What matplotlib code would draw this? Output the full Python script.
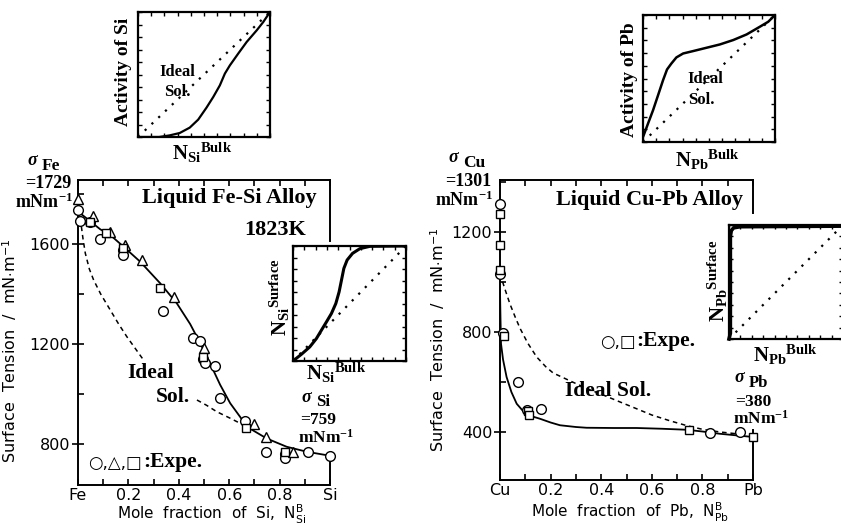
import matplotlib
matplotlib.use("Agg")
import matplotlib.pyplot as plt
import numpy as np

plt.rcParams['mathtext.fontset'] = 'custom'
plt.rcParams['mathtext.rm'] = 'Liberation Serif:bold'
plt.rcParams['mathtext.bf'] = 'Liberation Serif:bold'
plt.rcParams['mathtext.it'] = 'Liberation Serif:italic:bold'
plt.rcParams['mathtext.sf'] = 'DejaVu Sans'
plt.rcParams['font.family'] = ['DejaVu Sans']

# ---------------- data: Fe-Si ----------------
fesi_circ_x = [0.0, 0.007, 0.046, 0.088, 0.178, 0.178, 0.337, 0.458, 0.485, 0.495, 0.503, 0.544, 0.564, 0.663, 0.745, 0.822, 0.822, 0.914, 1.0]
fesi_circ_y = [1736, 1693, 1689, 1620, 1576, 1556, 1333, 1223, 1213, 1140, 1125, 1112, 983, 893, 769, 759, 743, 769, 752]
fesi_tri_x = [0.0, 0.059, 0.128, 0.188, 0.254, 0.382, 0.5, 0.7, 0.745, 0.855]
fesi_tri_y = [1779, 1713, 1649, 1596, 1536, 1389, 1183, 880, 829, 769]
fesi_sq_x = [0.046, 0.112, 0.177, 0.326, 0.495, 0.667, 0.822]
fesi_sq_y = [1689, 1645, 1583, 1423, 1149, 865, 769]
fesi_fit_x = [0.0, 0.046, 0.088, 0.128, 0.181, 0.247, 0.326, 0.392, 0.445, 0.485, 0.524, 0.564, 0.604, 0.643, 0.67, 0.749, 0.828, 0.908, 1.0]
fesi_fit_y = [1730, 1693, 1659, 1636, 1589, 1529, 1443, 1363, 1280, 1203, 1123, 1037, 963, 909, 869, 822, 789, 769, 753]
fesi_ideal1_x = [0.009, 0.02, 0.029, 0.045, 0.062, 0.09, 0.128, 0.16, 0.194, 0.26]
fesi_ideal1_y = [1703, 1620, 1563, 1500, 1456, 1400, 1336, 1282, 1229, 1136]
fesi_ideal2_x = [0.472, 0.51, 0.551, 0.6, 0.643, 0.67]
fesi_ideal2_y = [976, 955, 929, 905, 883, 870]

# ---------------- data: Cu-Pb ----------------
cupb_circ_x = [0.0, 0.0, 0.013, 0.07, 0.108, 0.162, 0.829, 0.947]
cupb_circ_y = [1313, 1033, 797, 599, 489, 493, 397, 400]
cupb_sq_x = [0.0, 0.0, 0.0, 0.016, 0.112, 0.116, 0.747, 1.0]
cupb_sq_y = [1273, 1147, 1047, 784, 484, 467, 407, 380]
cupb_fit_x = [0.0, 0.002, 0.004, 0.012, 0.026, 0.045, 0.066, 0.09, 0.112, 0.158, 0.2, 0.237, 0.3, 0.342, 0.45, 0.54, 0.64, 0.737, 0.8, 0.868, 0.93, 1.0]
cupb_fit_y = [967, 850, 753, 690, 620, 560, 513, 485, 467, 453, 438, 427, 420, 417, 416, 416, 413, 409, 402, 393, 387, 380]
cupb_ideal_x = [0.0, 0.02, 0.039, 0.06, 0.079, 0.11, 0.145, 0.18, 0.21, 0.276, 0.34, 0.408, 0.47, 0.54, 0.6, 0.671, 0.74, 0.803, 0.87, 0.934]
cupb_ideal_y = [1033, 970, 913, 860, 815, 755, 700, 662, 636, 605, 575, 548, 522, 493, 468, 445, 425, 410, 400, 393]

# ---------------- inset data ----------------
act_si_x = [0.0, 0.16, 0.24, 0.316, 0.392, 0.456, 0.519, 0.57, 0.62, 0.658, 0.696, 0.759, 0.823, 0.899, 0.949, 1.0]
act_si_y = [0.0, 0.0, 0.013, 0.032, 0.075, 0.139, 0.235, 0.32, 0.413, 0.507, 0.573, 0.667, 0.76, 0.853, 0.92, 1.0]
act_pb_x = [0.0, 0.038, 0.076, 0.114, 0.152, 0.182, 0.215, 0.253, 0.304, 0.38, 0.481, 0.582, 0.684, 0.785, 0.886, 0.949, 1.0]
act_pb_y = [0.039, 0.145, 0.25, 0.368, 0.487, 0.571, 0.618, 0.666, 0.697, 0.716, 0.742, 0.768, 0.803, 0.847, 0.908, 0.947, 1.0]
surf_si_x = [0.0, 0.074, 0.148, 0.207, 0.251, 0.296, 0.34, 0.379, 0.408, 0.429, 0.45, 0.479, 0.527, 0.592, 0.68, 1.0]
surf_si_y = [0.0, 0.058, 0.122, 0.195, 0.267, 0.34, 0.413, 0.5, 0.601, 0.703, 0.805, 0.878, 0.936, 0.977, 0.997, 1.0]
surf_pb_x = [0.0, 0.012, 0.012, 0.02, 0.04, 0.1, 1.0]
surf_pb_y = [0.0, 0.05, 0.9, 0.95, 0.975, 0.985, 0.99]
ideal_diag = [0.0, 1.0]

xtick_pos = [0.0, 0.2, 0.4, 0.6, 0.8, 1.0]
fesi_xticklabels = ['Fe', '0.2', '0.4', '0.6', '0.8', 'Si']
cupb_xticklabels = ['Cu', '0.2', '0.4', '0.6', '0.8', 'Pb']
fesi_yticks = [800, 1200, 1600]
cupb_yticks = [400, 800, 1200]

W, H = 841, 524
fig = plt.figure(figsize=(W / 100, H / 100), dpi=100)


def rect(x0, y0, x1, y1):
    return [x0 / W, 1 - y1 / H, (x1 - x0) / W, (y1 - y0) / H]


def fp(x, y):
    return (x / W, 1 - y / H)


SERIF = 'Liberation Serif'
mk = dict(mfc='white', mec='black', mew=1.0, ls='none', clip_on=False, zorder=5)


def style_main(ax, ylim, yticks, xlabels):
    ax.set_xlim(0, 1)
    ax.set_xticks(xtick_pos)
    ax.set_xticklabels(xlabels)
    ax.set_xticks(np.arange(0, 1.01, 0.1), minor=True)
    ax.set_yticks(yticks)
    ax.set_yticks(np.arange(200, 2000, 200), minor=True)
    ax.set_ylim(*ylim)
    for s in ax.spines.values():
        s.set_linewidth(1.4)
    ax.tick_params(axis='x', which='both', direction='in', top=True, bottom=True,
                   length=4, width=1.2, labelsize=11.5, pad=2)
    ax.tick_params(axis='y', which='major', direction='inout', length=9, width=1.2,
                   labelsize=11.5, pad=1, right=False)
    ax.tick_params(axis='y', which='minor', direction='in', length=4, width=1.2, right=False)


# ================= Left main: Fe-Si =================
axL = fig.add_axes(rect(78, 180, 330, 485))
ylimL = (636, 1856)
style_main(axL, ylimL, fesi_yticks, fesi_xticklabels)
axL.spines['right'].set_bounds(1610, ylimL[1])
axL.axvline(1.0, ymin=0, ymax=(752 - ylimL[0]) / (ylimL[1] - ylimL[0]), color='k', lw=1.4, clip_on=False)
axL.plot(fesi_fit_x, fesi_fit_y, color='k', lw=1.3)
axL.plot(fesi_ideal1_x, fesi_ideal1_y, color='k', lw=1.1, ls=(0, (3, 2.5)))
axL.plot(fesi_ideal2_x, fesi_ideal2_y, color='k', lw=1.1, ls=(0, (3, 2.5)))
axL.plot(fesi_circ_x, fesi_circ_y, marker='o', ms=7, **mk)
axL.plot(fesi_tri_x, fesi_tri_y, marker='^', ms=6.5, **mk)
axL.plot(fesi_sq_x, fesi_sq_y, marker='s', ms=5.5, **mk)
axL.set_ylabel(r"Surface  Tension  /  mN$\cdot$m$^{\mathsf{-1}}$", fontsize=11.5)
axL.yaxis.set_label_coords(-0.235, 0.44)
axL.set_xlabel(r"Mole  fraction  of  Si,  $\mathsf{N^{B}_{Si}}$", fontsize=11)
axL.xaxis.set_label_coords(0.53, -0.057)

fig.text(*fp(229, 198), "Liquid Fe-Si Alloy", family=SERIF, weight='bold', fontsize=16, ha='center', va='center')
fig.text(*fp(306, 230), "1823K", family=SERIF, weight='bold', fontsize=16, ha='right', va='center')
fig.text(*fp(151, 373), "Ideal", family=SERIF, weight='bold', fontsize=15.5, ha='center', va='center')
fig.text(*fp(173, 397), "Sol.", family=SERIF, weight='bold', fontsize=15.5, ha='center', va='center')
fig.text(*fp(115, 463), "○,△,□", family='DejaVu Sans', fontsize=12, ha='center', va='center')
fig.text(*fp(143, 462), ":Expe.", family=SERIF, weight='bold', fontsize=15.5, ha='left', va='center')

fig.text(*fp(32, 160), "σ", family=SERIF, weight='bold', style='italic', fontsize=13, ha='center', va='center')
fig.text(*fp(42, 166), "Fe", family=SERIF, weight='bold', fontsize=12.5, ha='left', va='center')
fig.text(*fp(71, 183), "=1729", family=SERIF, weight='bold', fontsize=13, ha='right', va='center')
fig.text(*fp(73, 202), r"mNm$^{\mathrm{-1}}$", family=SERIF, weight='bold', fontsize=13, ha='right', va='center')

fig.text(*fp(306, 398), "σ", family=SERIF, weight='bold', style='italic', fontsize=13, ha='center', va='center')
fig.text(*fp(316, 402), "Si", family=SERIF, weight='bold', fontsize=12, ha='left', va='center')
fig.text(*fp(300, 420), "=759", family=SERIF, weight='bold', fontsize=12.5, ha='left', va='center')
fig.text(*fp(298, 438), r"mNm$^{\mathrm{-1}}$", family=SERIF, weight='bold', fontsize=12.5, ha='left', va='center')

# ================= Right main: Cu-Pb =================
axR = fig.add_axes(rect(500, 180, 753, 480))
ylimR = (208, 1408)
style_main(axR, ylimR, cupb_yticks, cupb_xticklabels)
axR.spines['right'].set_bounds(1276, ylimR[1])
axR.axvline(1.0, ymin=0, ymax=(408 - ylimR[0]) / (ylimR[1] - ylimR[0]), color='k', lw=1.4, clip_on=False)
axR.plot(cupb_fit_x, cupb_fit_y, color='k', lw=1.3)
axR.plot(cupb_ideal_x, cupb_ideal_y, color='k', lw=1.1, ls=(0, (3, 2.5)))
axR.plot(cupb_circ_x, cupb_circ_y, marker='o', ms=7, **mk)
axR.plot(cupb_sq_x, cupb_sq_y, marker='s', ms=5.5, **mk)
axR.set_ylabel(r"Surface  Tension  /  mN$\cdot$m$^{\mathsf{-1}}$", fontsize=11.5)
axR.yaxis.set_label_coords(-0.21, 0.467)
axR.set_xlabel(r"Mole  fraction  of  Pb,  $\mathsf{N^{B}_{Pb}}$", fontsize=11)
axR.xaxis.set_label_coords(0.514, -0.068)

fig.text(*fp(649, 200), "Liquid Cu-Pb Alloy", family=SERIF, weight='bold', fontsize=16, ha='center', va='center')
fig.text(*fp(608, 391), "Ideal Sol.", family=SERIF, weight='bold', fontsize=15.5, ha='center', va='center')
fig.text(*fp(618, 342), "○,□", family='DejaVu Sans', fontsize=12, ha='center', va='center')
fig.text(*fp(636, 341), ":Expe.", family=SERIF, weight='bold', fontsize=15.5, ha='left', va='center')

fig.text(*fp(453, 157), "σ", family=SERIF, weight='bold', style='italic', fontsize=13, ha='center', va='center')
fig.text(*fp(463, 163), "Cu", family=SERIF, weight='bold', fontsize=12.5, ha='left', va='center')
fig.text(*fp(491, 182), "=1301", family=SERIF, weight='bold', fontsize=13, ha='right', va='center')
fig.text(*fp(493, 200), r"mNm$^{\mathrm{-1}}$", family=SERIF, weight='bold', fontsize=13, ha='right', va='center')

fig.text(*fp(739, 378), "σ", family=SERIF, weight='bold', style='italic', fontsize=13, ha='center', va='center')
fig.text(*fp(749, 383), "Pb", family=SERIF, weight='bold', fontsize=12, ha='left', va='center')
fig.text(*fp(735, 402), "=380", family=SERIF, weight='bold', fontsize=12.5, ha='left', va='center')
fig.text(*fp(733, 419), r"mNm$^{\mathrm{-1}}$", family=SERIF, weight='bold', fontsize=12.5, ha='left', va='center')


# ================= Insets =================
def style_inset(ax, lw=1.6):
    ax.set_xlim(0, 1)
    ax.set_ylim(0, 1)
    ax.set_xticks(np.arange(0, 1.01, 0.1))
    ax.set_yticks(np.arange(0, 1.01, 0.1))
    ax.set_xticklabels([])
    ax.set_yticklabels([])
    ax.tick_params(which='both', direction='in', top=True, right=True, length=3, width=1.0)
    for s in ax.spines.values():
        s.set_linewidth(lw)
    ax.set_facecolor('white')


dots = (0, (1, 3.2))

ax1 = fig.add_axes(rect(138, 12, 270, 137), zorder=10)
style_inset(ax1)
ax1.plot(ideal_diag, ideal_diag, color='k', lw=1.6, ls=dots)
ax1.plot(act_si_x, act_si_y, color='k', lw=1.6)
ax1.text(0.30, 0.52, "Ideal", family=SERIF, weight='bold', fontsize=12, ha='center', va='center', transform=ax1.transAxes)
ax1.text(0.30, 0.36, "Sol.", family=SERIF, weight='bold', fontsize=12, ha='center', va='center', transform=ax1.transAxes)
fig.text(*fp(124, 72), "Activity of Si", family=SERIF, weight='bold', fontsize=14, rotation=90, ha='center', va='center')
fig.text(*fp(202, 153), r"$\mathrm{N}_{\mathrm{Si}}{}^{\mathrm{Bulk}}$", fontsize=15, ha='center', va='center')

ax2 = fig.add_axes(rect(643, 15, 775, 142), zorder=10)
style_inset(ax2)
ax2.plot(ideal_diag, ideal_diag, color='k', lw=1.6, ls=dots)
ax2.plot(act_pb_x, act_pb_y, color='k', lw=1.8)
ax2.text(0.34, 0.50, "Ideal", family=SERIF, weight='bold', fontsize=12, ha='left', va='center', transform=ax2.transAxes)
ax2.text(0.34, 0.33, "Sol.", family=SERIF, weight='bold', fontsize=12, ha='left', va='center', transform=ax2.transAxes)
fig.text(*fp(629, 80), "Activity of Pb", family=SERIF, weight='bold', fontsize=14, rotation=90, ha='center', va='center')
fig.text(*fp(708, 160), r"$\mathrm{N}_{\mathrm{Pb}}{}^{\mathrm{Bulk}}$", fontsize=15, ha='center', va='center')

ax3 = fig.add_axes(rect(293, 246, 406, 361), zorder=10)
style_inset(ax3)
ax3.plot(ideal_diag, ideal_diag, color='k', lw=1.6, ls=dots)
ax3.plot(surf_si_x, surf_si_y, color='k', lw=2.2)
fig.text(*fp(280, 297), r"$\mathrm{N}_{\mathrm{Si}}{}^{\mathrm{Surface}}$", fontsize=15, rotation=90, ha='center', va='center')
fig.text(*fp(336, 373), r"$\mathrm{N}_{\mathrm{Si}}{}^{\mathrm{Bulk}}$", fontsize=15, ha='center', va='center')

ax4 = fig.add_axes(rect(729, 225, 843, 339), zorder=10)
style_inset(ax4)
ax4.plot(ideal_diag, ideal_diag, color='k', lw=1.6, ls=dots)
ax4.plot(surf_pb_x, surf_pb_y, color='k', lw=2.6, clip_on=False)
fig.text(*fp(718, 281), r"$\mathrm{N}_{\mathrm{Pb}}{}^{\mathrm{Surface}}$", fontsize=15, rotation=90, ha='center', va='center')
fig.text(*fp(786, 355), r"$\mathrm{N}_{\mathrm{Pb}}{}^{\mathrm{Bulk}}$", fontsize=15, ha='center', va='center')

fig.savefig("out.png", dpi=100)
